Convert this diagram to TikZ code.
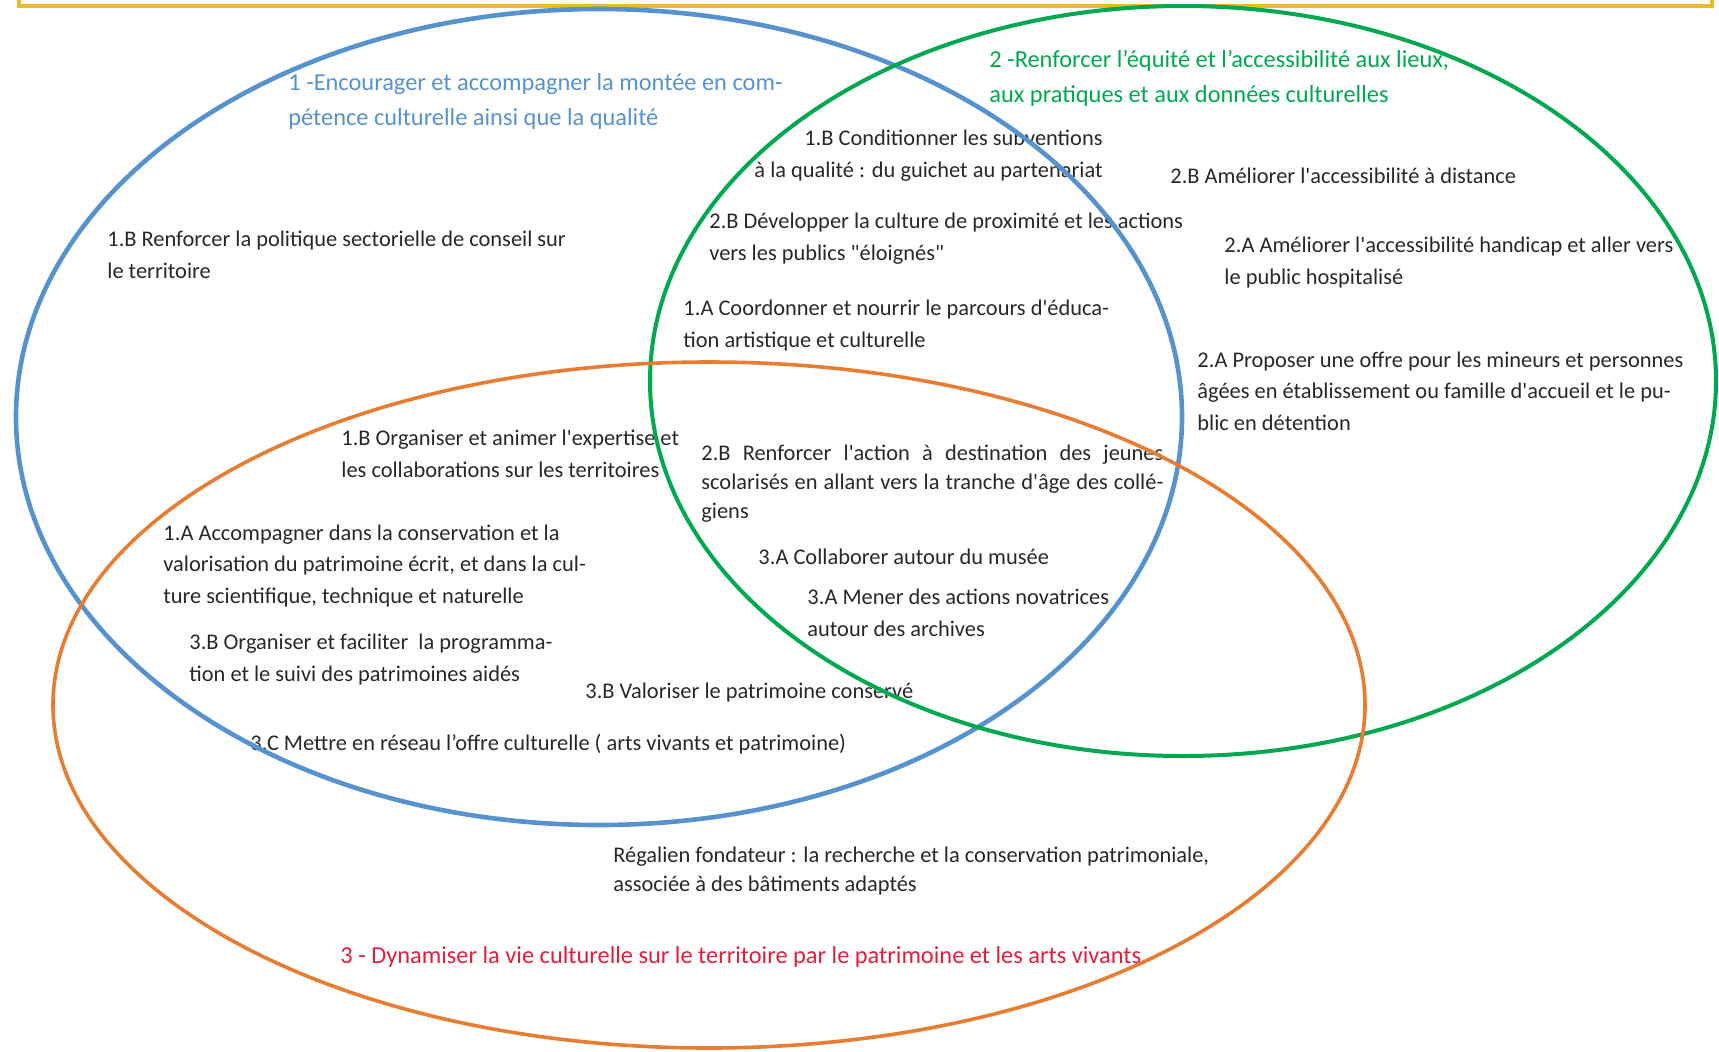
\documentclass[tikz,border=0pt]{standalone}
\usepackage{fontspec}
\setmainfont{Carlito}[Ligatures=TeXOff]
\definecolor{vennblue}{RGB}{86,146,206}
\definecolor{venngreen}{RGB}{0,168,80}
\definecolor{vennorange}{RGB}{232,125,50}
\definecolor{vennred}{RGB}{224,30,62}
\definecolor{venngold}{RGB}{236,186,40}
\definecolor{inkgray}{RGB}{40,40,40}
\tikzset{
  item/.style={anchor=base west, align=left, inner sep=0pt, text=inkgray,
    font=\fontsize{11.2}{15.75}\selectfont},
  tightitem/.style={item, font=\fontsize{11.2}{14.5}\selectfont},
  heading/.style={anchor=base west, align=left, inner sep=0pt,
    font=\fontsize{12.2}{17.5}\selectfont},
  ring/.style={line width=2pt},
}
\begin{document}
\begin{tikzpicture}[x=0.5pt, y=-0.5pt]
	\useasboundingbox (0,0) rectangle (1719,1051);
	% frame edge at the top
	\draw[venngold, line width=2pt] (19,0) -- (19,6) -- (1712,6) -- (1712,0);
	% headings (multi-line nodes sit on their last baseline)
	\node[heading, text=vennblue] (h1) at (288,125) {1 -Encourager et accompagner la montée en com-\\pétence culturelle ainsi que la qualité};
	\node[heading, text=venngreen] (h2) at (989,102) {2 -Renforcer l’équité et l’accessibilité aux lieux,\\aux pratiques et aux données culturelles};
	\node[heading, text=vennred] (h3) at (340,963) {3 - Dynamiser la vie culturelle sur le territoire par le patrimoine et les arts vivants};
	% actions
	\node[item, anchor=base east, align=right] (subv) at (1103,177) {1.B Conditionner les subventions\\à la qualité : du guichet au partenariat};
	\node[item] (distance) at (1170,183) {2.B Améliorer l'accessibilité à distance};
	\node[item] (proxi) at (709,260) {2.B Développer la culture de proximité et les actions\\vers les publics "éloignés"};
	\node[item] (handi) at (1224,284) {2.A Améliorer l'accessibilité handicap et aller vers\\le public hospitalisé};
	\node[item] (conseil) at (107,278) {1.B Renforcer la politique sectorielle de conseil sur\\le territoire};
	\node[item] (eac) at (683,347) {1.A Coordonner et nourrir le parcours d'éduca-\\tion artistique et culturelle};
	\node[item] (mineurs) at (1197,430) {2.A Proposer une offre pour les mineurs et personnes\\âgées en établissement ou famille d'accueil et le pu-\\blic en détention};
	\node[item] (expertise) at (341,477) {1.B Organiser et animer l'expertise et\\les collaborations sur les territoires};
	\node[tightitem, align=justify, text width=231pt] (jeunes) at (701,460) {\emergencystretch=2em 2.B Renforcer l'action à destination des jeunes\linebreak scolarisés en allant vers la tranche d'âge des collé-\linebreak giens};
	\node[item] (ecrit) at (163,603) {1.A Accompagner dans la conservation et la\\valorisation du patrimoine écrit, et dans la cul-\\ture scientifique, technique et naturelle};
	\node[item] (musee) at (758,564) {3.A Collaborer autour du musée};
	\node[item] (archives) at (807,636) {3.A Mener des actions novatrices\\autour des archives};
	\node[item] (aides) at (189,681) {3.B Organiser et faciliter\ \ la programma-\\tion et le suivi des patrimoines aidés};
	\node[item] (conserve) at (585,698) {3.B Valoriser le patrimoine conservé};
	\node[item] (reseau) at (250,750) {3.C Mettre en réseau l’offre culturelle ( arts vivants et patrimoine)};
	\node[tightitem] (regalien) at (613,891) {Régalien fondateur : la recherche et la conservation patrimoniale,\\associée à des bâtiments adaptés};
	% the three sets
	\draw[ring, vennblue, line width=2.3pt] (599,417) ellipse [x radius=583, y radius=408];
	\draw[ring, venngreen] (1183,381) ellipse [x radius=533, y radius=375];
	\draw[ring, vennorange, line width=1.8pt] (709,705) ellipse [x radius=656, y radius=343];
\end{tikzpicture}
\end{document}
